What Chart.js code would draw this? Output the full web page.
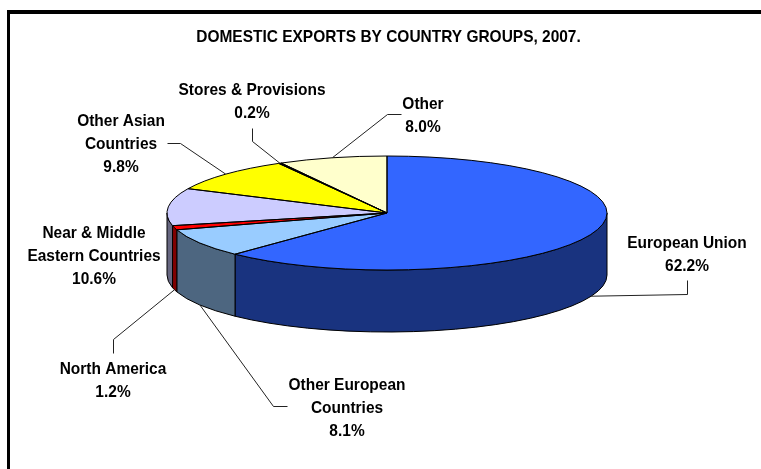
<!DOCTYPE html>
<html>
<head>
<meta charset="utf-8">
<title>Domestic exports by country groups, 2007</title>
<script src="https://cdn.jsdelivr.net/npm/chart.js@4"></script>
<style>
    html, body { margin: 0; padding: 0; background: #fff; }
    canvas { display: block; }
</style>
</head>
<body>
<canvas id="exports-pie" width="761" height="469"></canvas>
<script>
"use strict";
const titleText = 'DOMESTIC EXPORTS BY COUNTRY GROUPS, 2007.';
const groups = ['European Union', 'Other European Countries', 'North America', 'Near & Middle Eastern Countries', 'Other Asian Countries', 'Stores & Provisions', 'Other'];
const shares = [62.2, 8.1, 1.2, 10.6, 9.8, 0.2, 8.0];
const topColors = ['#3366FF', '#99CCFF', '#FF0000', '#CCCCFF', '#FFFF00', '#000000', '#FFFFCC'];
const sideColors = ['#19337F', '#4D6680', '#800000', '#666680', '#808000', '#000000', '#808066'];

// tilted pie: where the top ellipse sits and how tall the wall is
const CX = 387, CY = 213, RX = 220, RY = 57, DEPTH = 62;
// no narrow bold face available, so the regular bold gets squeezed sideways
const FONT = 'bold 17px "Liberation Sans", Arial, sans-serif';
const TEXT_SQUEEZE = 0.91;

// label lines and leader elbows, one entry per slice
const callouts = [
    { x: 687, y: 243, lines: ['European Union', '62.2%'], leader: [[687, 294], [687, 280]] },
    { x: 347, y: 385, lines: ['Other European', 'Countries', '8.1%'], leader: [[273, 406], [287, 406]] },
    { x: 113, y: 369, lines: ['North America', '1.2%'], leader: [[113, 339], [113, 353]] },
    { x: 94, y: 233, lines: ['Near & Middle', 'Eastern Countries', '10.6%'], leader: null },
    { x: 121, y: 121, lines: ['Other Asian', 'Countries', '9.8%'], leader: [[180, 143], [167, 143]] },
    { x: 252, y: 90, lines: ['Stores & Provisions', '0.2%'], leader: [[252, 141], [252, 128]] },
    { x: 423, y: 104, lines: ['Other', '8.0%'], leader: [[387, 114], [401, 114]] }
];

function drawText(ctx, text, x, y) {
    ctx.save();
    ctx.translate(x, y);
    ctx.scale(TEXT_SQUEEZE, 1);
    ctx.fillText(text, 0, 0);
    ctx.restore();
}

// part of a slice that faces the viewer (canvas angles 0..PI)
function frontRange(arc) {
    const start = Math.max(arc.startAngle, 0);
    const end = Math.min(arc.endAngle, Math.PI);
    return end > start ? [start, end] : null;
}

const tiltedPie = {
    id: 'tiltedPie',
    beforeDraw(chart) {
        // heavy frame on the top and left only
        const ctx = chart.ctx;
        ctx.save();
        ctx.fillStyle = '#000';
        ctx.fillRect(7, 10, 754, 4);
        ctx.fillRect(7, 10, 3, 459);
        ctx.restore();
    },
    beforeDatasetDraw(chart, args) {
        const ctx = chart.ctx;
        const arcs = chart.getDatasetMeta(args.index).data;
        // wall below the top face
        ctx.save();
        ctx.lineWidth = 1;
        ctx.strokeStyle = '#000';
        arcs.forEach((arc, i) => {
            const range = frontRange(arc);
            if (!range) return;
            ctx.beginPath();
            ctx.ellipse(CX, CY, RX, RY, 0, range[0], range[1]);
            ctx.ellipse(CX, CY + DEPTH, RX, RY, 0, range[1], range[0], true);
            ctx.closePath();
            ctx.fillStyle = sideColors[i];
            ctx.fill();
            ctx.stroke();
        });
        ctx.restore();
        // the library's own arcs get squashed onto the top ellipse
        const el = arcs[0];
        ctx.save();
        ctx.translate(CX, CY);
        ctx.scale(RX / el.outerRadius, RY / el.outerRadius);
        ctx.translate(-el.x, -el.y);
    },
    afterDatasetDraw(chart, args) {
        const ctx = chart.ctx;
        ctx.restore();
        // outlines done here so the line width stays even around the ellipse
        ctx.save();
        ctx.lineWidth = 1;
        ctx.strokeStyle = '#000';
        chart.getDatasetMeta(args.index).data.forEach(arc => {
            ctx.beginPath();
            ctx.moveTo(CX, CY);
            ctx.ellipse(CX, CY, RX, RY, 0, arc.startAngle, arc.endAngle);
            ctx.closePath();
            ctx.stroke();
        });
        ctx.restore();
    },
    afterDraw(chart) {
        const ctx = chart.ctx;
        const arcs = chart.getDatasetMeta(0).data;
        ctx.save();
        ctx.lineWidth = 1;
        ctx.strokeStyle = '#222';
        ctx.fillStyle = '#000';
        ctx.font = FONT;
        ctx.textAlign = 'center';
        ctx.textBaseline = 'middle';
        drawText(ctx, titleText, 388.5, 37.5);
        callouts.forEach((label, i) => {
            if (label.leader) {
                // leader starts on the rim at the middle of the slice
                const mid = (arcs[i].startAngle + arcs[i].endAngle) / 2;
                const onWall = Math.sin(mid) > 0;
                ctx.beginPath();
                ctx.moveTo(CX + RX * Math.cos(mid), CY + RY * Math.sin(mid) + (onWall ? DEPTH : 0));
                label.leader.forEach(p => ctx.lineTo(p[0] + 0.5, p[1] + 0.5));
                ctx.stroke();
            }
            label.lines.forEach((line, n) => drawText(ctx, line, label.x, label.y + n * 23));
        });
        ctx.restore();
    }
};

new Chart(document.getElementById('exports-pie'), {
    type: 'pie',
    data: {
        labels: groups,
        datasets: [{
            data: shares,
            backgroundColor: topColors,
            borderWidth: 0,
            hoverOffset: 0
        }]
    },
    options: {
        responsive: false,
        animation: false,
        events: [],
        plugins: {
            legend: { display: false },
            tooltip: { enabled: false }
        }
    },
    plugins: [tiltedPie]
});
</script>
</body>
</html>
